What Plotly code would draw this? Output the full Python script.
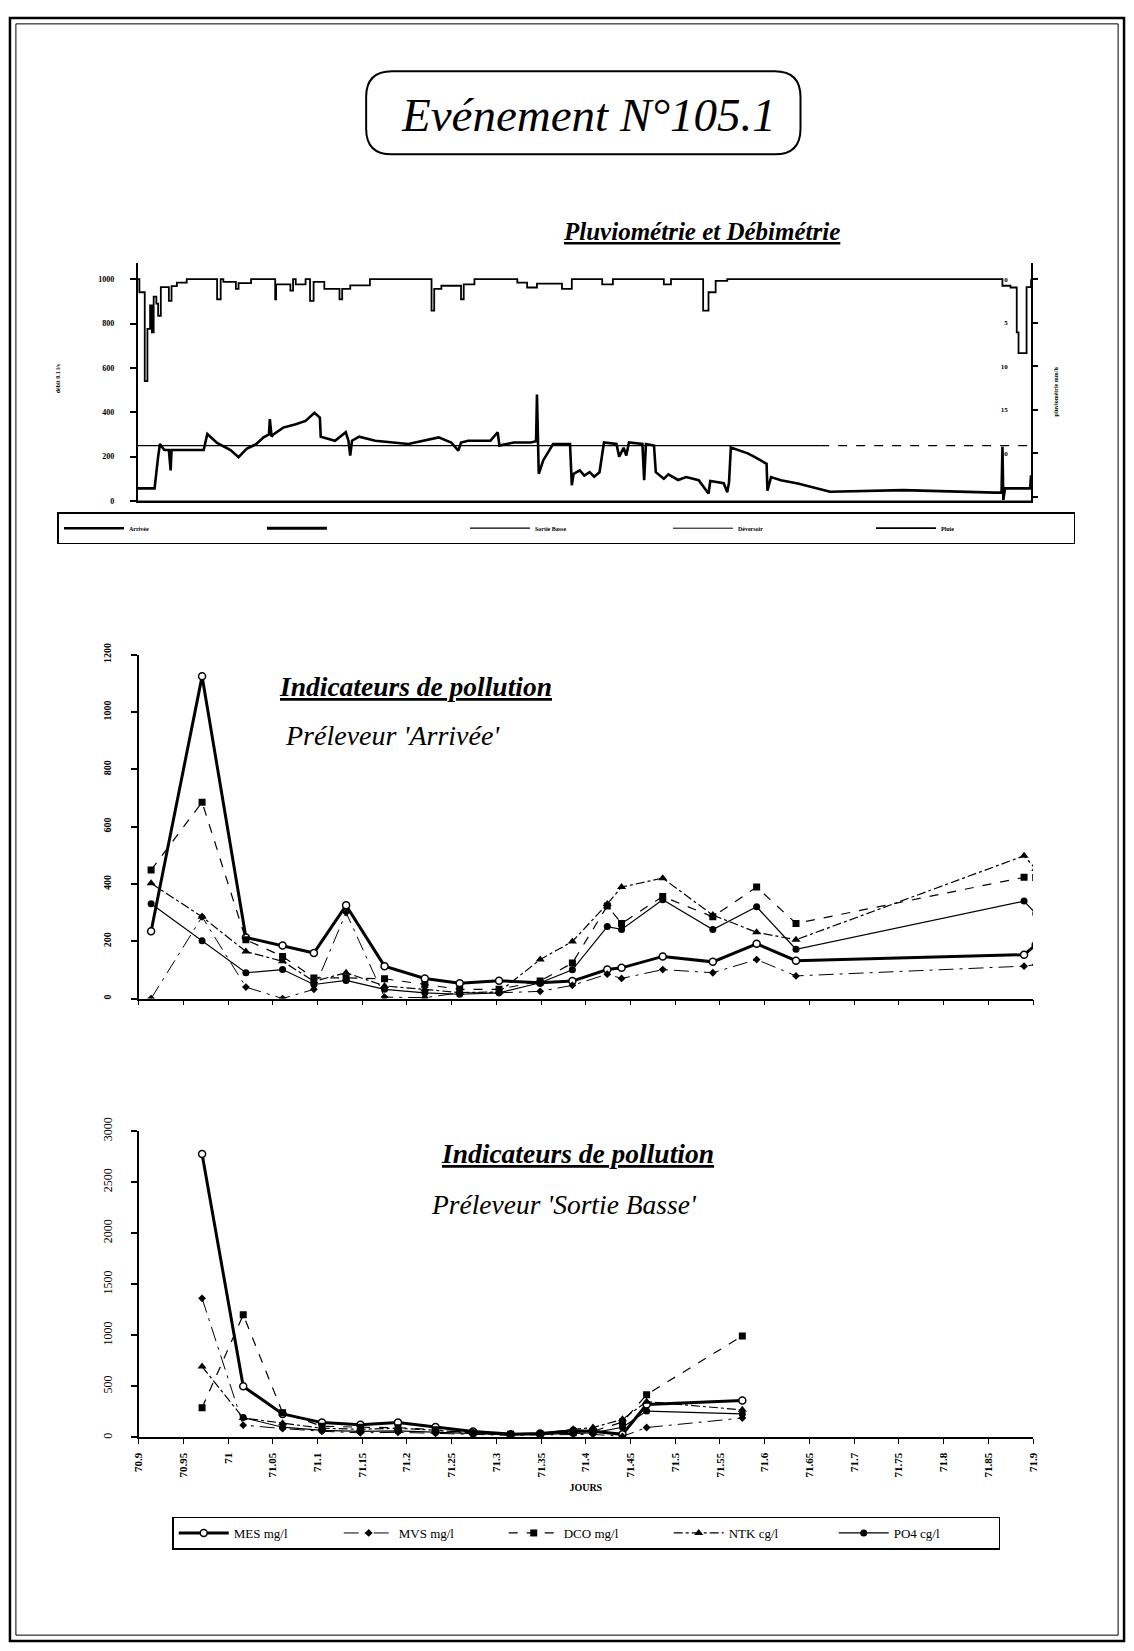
import plotly.graph_objects as go

W, H = 1134, 1651
FONT = "Liberation Serif"

# ------------------------------------------------------------------ data
# Pluviométrie (mm/h) - step series, start time of each step
rain_t = [70.900, 70.902, 70.908, 70.911, 70.914, 70.916, 70.918, 70.921, 70.923, 70.926,
          70.935, 70.938, 70.944, 70.955, 70.989, 70.993, 70.996, 71.010, 71.013, 71.027,
          71.054, 71.055, 71.071, 71.074, 71.077, 71.088, 71.093, 71.097, 71.109, 71.126,
          71.129, 71.138, 71.160, 71.229, 71.232, 71.240, 71.262, 71.265, 71.277, 71.325,
          71.336, 71.347, 71.375, 71.386, 71.420, 71.432, 71.489, 71.497, 71.533, 71.539,
          71.547, 71.560, 71.868, 71.877, 71.884, 71.886, 71.895, 71.900]
rain_mm = [0, 1.5, 11.7, 5.7, 3.0, 6.1, 2.0, 2.8, 4.2, 0.9,
           2.5, 0.8, 0.4, 0, 2.3, 0, 0.3, 1.1, 0.45, 0,
           2.3, 0.6, 1.3, 0, 0.6, 0, 2.5, 0.3, 1.1, 2.3,
           1.1, 0.7, 0, 3.6, 1.1, 0.75, 2.3, 0.6, 0, 0.4,
           0.95, 0.5, 1.1, 0, 0.6, 0, 0.6, 0, 3.6, 1.5,
           0.2, 0, 0.75, 0.95, 6.1, 8.5, 0.9, 0]

# Débit Arrivée (0.1 l/s)
flow_t = [70.900, 70.919, 70.923, 70.925, 70.928, 70.930, 70.935, 70.937, 70.938, 70.974,
          70.978, 70.989, 71.004, 71.013, 71.022, 71.033, 71.041, 71.047, 71.048, 71.050,
          71.052, 71.063, 71.077, 71.088, 71.098, 71.104, 71.105, 71.107, 71.121, 71.133,
          71.136, 71.138, 71.140, 71.148, 71.166, 71.203, 71.237, 71.251, 71.259, 71.262,
          71.270, 71.295, 71.303, 71.305, 71.321, 71.340, 71.346, 71.347, 71.349, 71.354,
          71.365, 71.384, 71.386, 71.388, 71.395, 71.400, 71.406, 71.411, 71.417, 71.422,
          71.436, 71.439, 71.444, 71.447, 71.450, 71.465, 71.467, 71.469, 71.478, 71.480,
          71.489, 71.494, 71.505, 71.514, 71.528, 71.539, 71.541, 71.556, 71.560, 71.562,
          71.564, 71.583, 71.591, 71.600, 71.604, 71.605, 71.609, 71.620, 71.639, 71.675,
          71.757, 71.860, 71.867, 71.868, 71.869, 71.871, 71.899, 71.900]
flow_v = [57, 57, 200, 257, 240, 230, 230, 138, 230, 230,
          302, 262, 230, 198, 235, 257, 287, 300, 369, 290,
          300, 331, 346, 361, 398, 376, 290, 287, 272, 310,
          272, 205, 272, 290, 272, 257, 287, 264, 227, 264,
          272, 272, 310, 250, 264, 264, 270, 480, 123, 183,
          257, 257, 71, 123, 138, 115, 130, 110, 130, 264,
          257, 200, 240, 205, 264, 257, 94, 257, 250, 130,
          100, 120, 95, 108, 94, 34, 90, 80, 40, 85,
          241, 215, 198, 175, 168, 47, 108, 94, 79, 42,
          49, 38, 38, 245, 5, 57, 57, 116]

sortie_t = [70.900, 71.664, 71.900]
sortie_v = [250, 250, 250]
devers_t = [70.900, 71.900]
devers_v = [0, 0]

top_legend_names = ["Arrivée", " ", "Sortie Basse", "Déversoir", "Pluie"]

# Préleveur 'Arrivée'
arr_t = [70.914, 70.971, 71.020, 71.061, 71.096, 71.132, 71.175, 71.220, 71.259, 71.303,
         71.349, 71.385, 71.424, 71.440, 71.486, 71.542, 71.591, 71.635, 71.890, 71.903]
arr_mes = [235, 1124, 213, 185, 159, 325, 113, 70, 53, 62, 55, 61, 101, 107, 147, 128, 191, 132, 153, 187]
arr_mvs = [0, 285, 40, 0, 32, 300, 5, 3, 20, 20, 25, 46, 85, 70, 101, 90, 136, 79, 113, 118]
arr_dco = [448, 685, 205, 147, 72, 72, 69, 49, 32, 32, 61, 124, 323, 262, 356, 285, 389, 262, 423, 422]
arr_ntk = [402, 285, 164, 130, 60, 90, 44, 32, 21, 23, 136, 199, 330, 389, 420, 291, 231, 205, 498, 452]
arr_po4 = [331, 202, 90, 101, 49, 63, 32, 20, 15, 20, 55, 100, 251, 241, 345, 241, 320, 172, 340, 297]

# Préleveur 'Sortie Basse'
sb_t = [70.971, 71.017, 71.061, 71.105, 71.148, 71.190, 71.232, 71.274, 71.316, 71.349,
        71.386, 71.408, 71.441, 71.468, 71.575]
sb_mes = [2775, 500, 230, 145, 123, 145, 103, 58, 32, 39, 65, 60, 30, 322, 361]
sb_mvs = [1362, 120, 87, 60, 45, 50, 40, 30, 20, 25, 30, 30, 10, 97, 190]
sb_dco = [290, 1200, 242, 110, 100, 95, 75, 45, 30, 30, 50, 60, 150, 419, 994]
sb_ntk = [694, 190, 140, 90, 80, 90, 70, 45, 30, 35, 80, 97, 177, 350, 270]
sb_po4 = [None, 194, 100, 70, 60, 65, 50, 35, 25, 30, 40, 45, 100, 258, 230]

poll_names = ["MES mg/l", "MVS mg/l", "DCO mg/l", "NTK cg/l", "PO4 cg/l"]

x_tick_vals = [70.9, 70.95, 71.0, 71.05, 71.1, 71.15, 71.2, 71.25, 71.3, 71.35, 71.4,
               71.45, 71.5, 71.55, 71.6, 71.65, 71.7, 71.75, 71.8, 71.85, 71.9]
x_tick_text = ["70.9", "70.95", "71", "71.05", "71.1", "71.15", "71.2", "71.25", "71.3", "71.35", "71.4",
               "71.45", "71.5", "71.55", "71.6", "71.65", "71.7", "71.75", "71.8", "71.85", "71.9"]
top_y_ticks = [0, 200, 400, 600, 800, 1000]
rain_ticks = [0, 5, 10, 15, 20, 25]
arr_y_ticks = [0, 200, 400, 600, 800, 1000, 1200]
sb_y_ticks = [0, 500, 1000, 1500, 2000, 2500, 3000]


def fx(p):
    return p / W


def fy(p):
    return 1 - p / H


fig = go.Figure()

# ------------------------------------------------------------------ top chart
fig.add_trace(go.Scatter(x=flow_t, y=flow_v, mode="lines", name=top_legend_names[0],
                         line=dict(color="black", width=2.6), xaxis="x", yaxis="y",
                         legend="legend"))
fig.add_trace(go.Scatter(x=[None], y=[None], mode="lines", name=top_legend_names[1],
                         line=dict(color="black", width=3), xaxis="x", yaxis="y",
                         legend="legend", showlegend=True))
fig.add_trace(go.Scatter(x=sortie_t[:2], y=sortie_v[:2], mode="lines", name=top_legend_names[2],
                         line=dict(color="black", width=1.2), xaxis="x", yaxis="y",
                         legend="legend"))
fig.add_trace(go.Scatter(x=sortie_t[1:], y=sortie_v[1:], mode="lines", showlegend=False,
                         line=dict(color="black", width=1.2, dash="dash"), xaxis="x", yaxis="y"))
fig.add_trace(go.Scatter(x=devers_t, y=devers_v, mode="lines", name=top_legend_names[3],
                         line=dict(color="black", width=1), xaxis="x", yaxis="y",
                         legend="legend"))
fig.add_trace(go.Scatter(x=rain_t, y=rain_mm, mode="lines", name=top_legend_names[4],
                         line=dict(color="black", width=1.8, shape="hv"), xaxis="x", yaxis="y2",
                         legend="legend"))

# ------------------------------------------------------------------ pollution charts
styles = [
    dict(line=dict(color="black", width=3), marker=dict(symbol="circle", size=7, color="white",
                                                          line=dict(color="black", width=1.5))),
    dict(line=dict(color="black", width=1, dash="longdashdot"),
         marker=dict(symbol="diamond", size=6, color="black")),
    dict(line=dict(color="black", width=1.2, dash="dash"),
         marker=dict(symbol="square", size=7, color="black")),
    dict(line=dict(color="black", width=1.2, dash="dashdot"),
         marker=dict(symbol="triangle-up", size=8, color="black")),
    dict(line=dict(color="black", width=1.2),
         marker=dict(symbol="circle", size=7, color="black")),
]
arr_series = [arr_mes, arr_mvs, arr_dco, arr_ntk, arr_po4]
sb_series = [sb_mes, sb_mvs, sb_dco, sb_ntk, sb_po4]

for name, vals, st in zip(poll_names, arr_series, styles):
    fig.add_trace(go.Scatter(x=arr_t, y=vals, mode="lines+markers", name=name, showlegend=False,
                             xaxis="x2", yaxis="y3", **st))
for name, vals, st in zip(poll_names, sb_series, styles):
    fig.add_trace(go.Scatter(x=sb_t, y=vals, mode="lines+markers", name=name, showlegend=True,
                             legend="legend2", connectgaps=False, xaxis="x3", yaxis="y4", **st))

# ------------------------------------------------------------------ axes
tick_font_small = dict(family=FONT, size=8, color="black", weight="bold")
axis_common = dict(showgrid=False, zeroline=False, showline=True, linecolor="black",
                   tickcolor="black", mirror=False)

fig.update_layout(
    xaxis=dict(domain=[fx(133), fx(1036)], range=[70.9, 71.9], anchor="y",
               ticks="", showticklabels=False, linewidth=1.5, **axis_common),
    yaxis=dict(domain=[fy(492.7), fy(251.5)], range=[0, 1075], anchor="x",
               tickvals=top_y_ticks, ticks="outside", ticklen=6, tickwidth=1.5, linewidth=1.5,
               tickfont=tick_font_small, ticklabelstandoff=14, **axis_common),
    yaxis2=dict(overlaying="y", side="right", anchor="x", range=[25.5, -1.91],
                tickvals=rain_ticks, ticks="outside", ticklen=5, tickwidth=1.5, linewidth=1.5,
                ticklabelposition="inside", ticklabelstandoff=22,
                tickfont=dict(family=FONT, size=7, color="black", weight="bold"), **axis_common),
    xaxis2=dict(domain=[fx(134), fx(1038)], range=[70.9, 71.9], anchor="y3",
                tickvals=x_tick_vals, showticklabels=False, ticks="outside", ticklen=5,
                tickwidth=1.2, linewidth=1.8, **axis_common),
    yaxis3=dict(domain=[fy(996), fy(648)], range=[0, 1200], anchor="x2",
                tickvals=arr_y_ticks, ticks="outside", ticklen=6, tickwidth=1.5, linewidth=1.8,
                tickangle=-90, ticklabelstandoff=16,
                tickfont=dict(family=FONT, size=10, color="black", weight="bold"), **axis_common),
    xaxis3=dict(domain=[fx(134), fx(1038)], range=[70.9, 71.9], anchor="y4",
                tickvals=x_tick_vals, ticktext=x_tick_text, tickangle=-90, ticks="outside",
                ticklen=5, tickwidth=1.2, linewidth=1.8, ticklabelstandoff=4,
                tickfont=dict(family=FONT, size=11, color="black", weight="bold"),
                title=dict(text="<b>JOURS</b>", standoff=8,
                           font=dict(family=FONT, size=10, color="black")),
                **axis_common),
    yaxis4=dict(domain=[fy(1440), fy(1130)], range=[0, 3000], anchor="x3",
                tickvals=sb_y_ticks, ticks="outside", ticklen=6, tickwidth=1.5, linewidth=1.8,
                tickangle=-90, ticklabelstandoff=14,
                tickfont=dict(family=FONT, size=12, color="black"), **axis_common),
)

# ------------------------------------------------------------------ legends
fig.update_layout(
    legend=dict(orientation="h", x=fx(52), y=fy(504), xanchor="left", yanchor="top",
                bordercolor="black", borderwidth=1.5, bgcolor="white",
                font=dict(family=FONT, size=6, color="black", weight="bold"),
                itemwidth=60, entrywidth=128, entrywidthmode="pixels",
                tracegroupgap=0, itemclick=False, itemdoubleclick=False),
    legend2=dict(orientation="h", x=fx(168), y=fy(1520), xanchor="left", yanchor="top",
                 bordercolor="black", borderwidth=1.5, bgcolor="white",
                 font=dict(family=FONT, size=13, color="black"),
                 itemwidth=50, entrywidth=100, entrywidthmode="pixels",
                 itemclick=False, itemdoubleclick=False),
)

# ------------------------------------------------------------------ shapes
x0, x1, y0, y1 = fx(364), fx(803), fy(142), fy(58)
rx, ry = 26 / W, 26 / H
title_path = (f"M {x0+rx},{y1} L {x1-rx},{y1} Q {x1},{y1} {x1},{y1-ry} "
              f"L {x1},{y0+ry} Q {x1},{y0} {x1-rx},{y0} L {x0+rx},{y0} "
              f"Q {x0},{y0} {x0},{y0+ry} L {x0},{y1-ry} Q {x0},{y1} {x0+rx},{y1} Z")
shapes = [
    dict(type="rect", xref="paper", yref="paper", x0=fx(4), x1=fx(1130), y0=fy(1646), y1=fy(4),
         line=dict(color="black", width=2.5)),
    dict(type="rect", xref="paper", yref="paper", x0=fx(10), x1=fx(1124), y0=fy(1640), y1=fy(10),
         line=dict(color="black", width=1)),
    dict(type="path", xref="paper", yref="paper", path=title_path,
         line=dict(color="black", width=2)),
]
fig.update_layout(shapes=shapes)

# ------------------------------------------------------------------ texts
def ann(x, y, text, size, angle=0, xanchor="center"):
    return dict(xref="paper", yref="paper", x=fx(x), y=fy(y), text=text, showarrow=False,
                xanchor=xanchor, yanchor="middle", textangle=angle,
                font=dict(family=FONT, size=size, color="black"))

annotations = [
    ann(589, 102, "<i>Evénement N°105.1</i>", 47),
    ann(845, 220, "<b><i><u>Pluviométrie et Débimétrie</u></i></b>", 25, xanchor="right"),
    ann(52, 368, "<b>débit 0.1 l/s</b>", 6, angle=-90),
    ann(1061, 382, "<b>pluviométrie mm/h</b>", 6, angle=-90),
    ann(274, 680, "<b><i><u>Indicateurs de pollution</u></i></b>", 27.5, xanchor="left"),
    ann(280, 730, "<i>Préleveur 'Arrivée'</i>", 28, xanchor="left"),
    ann(438, 1153, "<b><i><u>Indicateurs de pollution</u></i></b>", 27.5, xanchor="left"),
    ann(428, 1204, "<i>Préleveur 'Sortie Basse'</i>", 27.5, xanchor="left"),
]
fig.update_layout(annotations=annotations)

fig.update_layout(width=W, height=H, margin=dict(l=0, r=0, t=0, b=0),
                  paper_bgcolor="white", plot_bgcolor="white",
                  font=dict(family=FONT, color="black"))

fig.write_html("out.html", config={"displayModeBar": False},
               post_script="document.body.style.margin='0';document.body.style.overflow='hidden';")
